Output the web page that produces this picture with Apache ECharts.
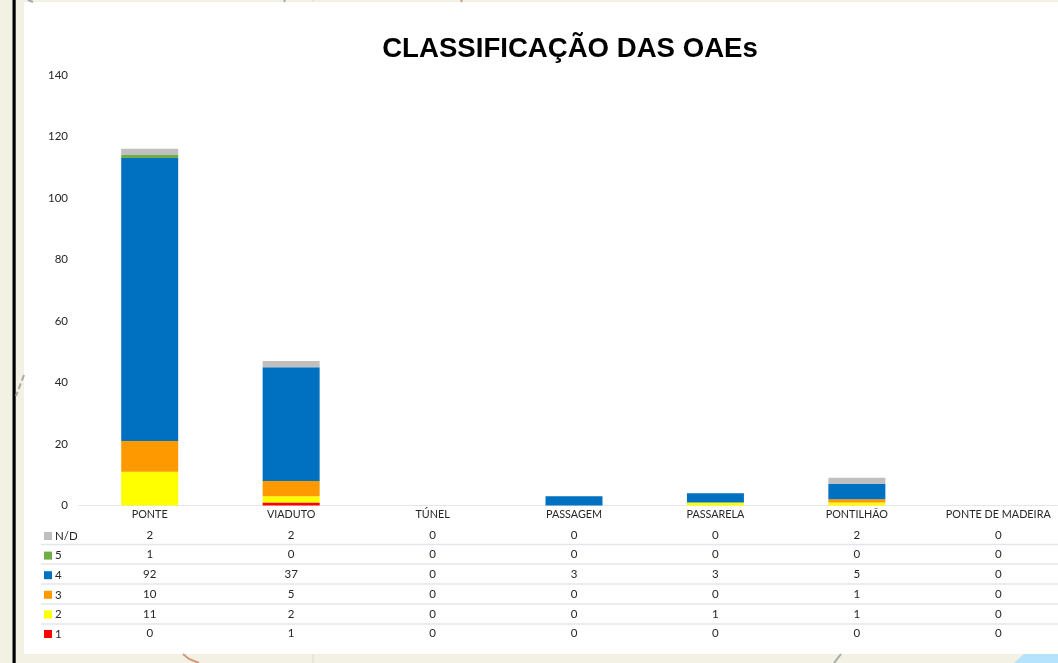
<!DOCTYPE html>
<html lang="pt">
<head>
    <meta charset="UTF-8">
    <title>Classificação das OAEs</title>
    <script src="https://cdn.jsdelivr.net/npm/echarts@6/dist/echarts.min.js"></script>
    <style>
        html, body { margin: 0; padding: 0; background: #f3f0e4; }
        #main { width: 1058px; height: 663px; }
    </style>
</head>
<body>
<div id="main"></div>
<script>
    var categories = ['PONTE', 'VIADUTO', 'TÚNEL', 'PASSAGEM', 'PASSARELA', 'PONTILHÃO', 'PONTE DE MADEIRA'];
    var yTicks = [0, 20, 40, 60, 80, 100, 120, 140];

    var nivel1 = [0, 1, 0, 0, 0, 0, 0];
    var nivel2 = [11, 2, 0, 0, 1, 1, 0];
    var nivel3 = [10, 5, 0, 0, 0, 1, 0];
    var nivel4 = [92, 37, 0, 3, 3, 5, 0];
    var nivel5 = [1, 0, 0, 0, 0, 0, 0];
    var nivelND = [2, 2, 0, 0, 0, 2, 0];

    // ordem de empilhamento (de baixo para cima)
    var stackNames = ['1', '2', '3', '4', '5', 'N/D'];
    var stackData = [nivel1, nivel2, nivel3, nivel4, nivel5, nivelND];
    var stackColors = ['#ff0000', '#ffff00', '#ff9900', '#0070c0', '#70ad47', '#bfbfbf'];

    // linhas da tabela (de cima para baixo)
    var tableNames = ['N/D', '5', '4', '3', '2', '1'];
    var tableRows = [nivelND, nivel5, nivel4, nivel3, nivel2, nivel1];

    var LABEL_FONT = 'Lato';
    var TEXT_COLOR = '#262626';
    var LINE_COLOR = '#e3e6ea';

    var chart = echarts.init(document.getElementById('main'));

    var xAxes = [{
        type: 'category',
        data: categories,
        axisTick: { show: false },
        axisLine: { lineStyle: { color: LINE_COLOR, width: 1 } },
        axisLabel: { interval: 0, margin: 4, fontFamily: LABEL_FONT, fontSize: 10.8, color: TEXT_COLOR }
    }];
    // cada linha da tabela e um eixo categorico deslocado
    var rowOffsets = [20, 39, 59, 79, 99, 118];
    tableRows.forEach(function (row, i) {
        xAxes.push({
            type: 'category',
            position: 'bottom',
            offset: rowOffsets[i],
            data: row.map(String),
            axisTick: { show: false },
            axisLine: { show: false },
            axisLabel: { interval: 0, margin: 4, fontFamily: LABEL_FONT, fontSize: 11.5, color: TEXT_COLOR }
        });
    });

    var series = stackNames.map(function (name, i) {
        return {
            name: name,
            type: 'bar',
            stack: 'total',
            barWidth: 57,
            xAxisIndex: 0,
            itemStyle: { color: stackColors[i] },
            emphasis: { disabled: true },
            animation: false,
            data: stackData[i]
        };
    });

    // separadores da tabela
    var rowLines = [544.5, 564, 584, 604, 624].map(function (y) {
        return { type: 'line', z: 0, shape: { x1: 41, y1: y, x2: 1058, y2: y }, style: { stroke: LINE_COLOR, lineWidth: 1.4 } };
    });

    // fundo: mapa atras do grafico
    var backdrop = [
        { type: 'rect', z: -10, shape: { x: 24, y: 2, width: 1034, height: 652 }, style: { fill: '#ffffff' } },
        { type: 'rect', z: -10, shape: { x: 12.5, y: 0, width: 3.2, height: 663 }, style: { fill: '#000000' } },
        { type: 'line', z: -10, shape: { x1: 24, y1: 375, x2: 16, y2: 396 }, style: { stroke: '#a9a9a9', lineWidth: 2, lineDash: [6, 3] } },
        { type: 'line', z: -10, shape: { x1: 313, y1: 654, x2: 313, y2: 663 }, style: { stroke: '#dcdad2', lineWidth: 1 } },
        { type: 'line', z: -10, shape: { x1: 313, y1: 0, x2: 313, y2: 2 }, style: { stroke: '#dcdad2', lineWidth: 1 } },
        { type: 'polyline', z: -10, shape: { points: [[183, 654], [189, 659], [199, 663]] }, style: { stroke: '#d09a7c', lineWidth: 2, fill: 'none' } },
        { type: 'line', z: -10, shape: { x1: 841, y1: 654, x2: 834, y2: 663 }, style: { stroke: '#a9a9a9', lineWidth: 2 } },
        { type: 'polygon', z: -10, shape: { points: [[1024, 654], [1058, 654], [1058, 663], [1014, 663]] }, style: { fill: '#b5e3fd' } },
        { type: 'line', z: -10, shape: { x1: 462, y1: 0, x2: 461, y2: 2 }, style: { stroke: '#d09a7c', lineWidth: 2 } },
        { type: 'line', z: -10, shape: { x1: 285, y1: 0, x2: 284, y2: 2 }, style: { stroke: '#a9a9a9', lineWidth: 2 } },
        { type: 'line', z: -10, shape: { x1: 28, y1: 0, x2: 33, y2: 2 }, style: { stroke: '#a9a9a9', lineWidth: 2 } }
    ];

    var option = {
        animation: false,
        backgroundColor: 'transparent',
        title: {
            text: 'CLASSIFICAÇÃO DAS OAEs',
            left: 565,
            top: 30,
            textAlign: 'center',
            textStyle: { fontFamily: 'Liberation Sans', fontSize: 27.6, fontWeight: 'bold', color: '#000000' }
        },
        legend: {
            orient: 'vertical',
            left: 39,
            top: 525,
            itemWidth: 8,
            itemHeight: 8,
            itemGap: 7.6,
            icon: 'rect',
            selectedMode: false,
            data: tableNames,
            textStyle: { fontFamily: LABEL_FONT, fontSize: 11.5, color: TEXT_COLOR, padding: [0, 0, 0, -2] }
        },
        grid: { left: 79, top: 75, width: 990, height: 430.5, outerBoundsMode: 'none' },
        xAxis: xAxes,
        yAxis: {
            type: 'value',
            min: yTicks[0],
            max: yTicks[yTicks.length - 1],
            interval: 20,
            axisLine: { show: false },
            axisTick: { show: false },
            splitLine: { show: false },
            axisLabel: { margin: 11, fontFamily: LABEL_FONT, fontSize: 11.5, color: TEXT_COLOR }
        },
        graphic: backdrop.concat(rowLines),
        series: series
    };

    chart.setOption(option);
</script>
</body>
</html>
